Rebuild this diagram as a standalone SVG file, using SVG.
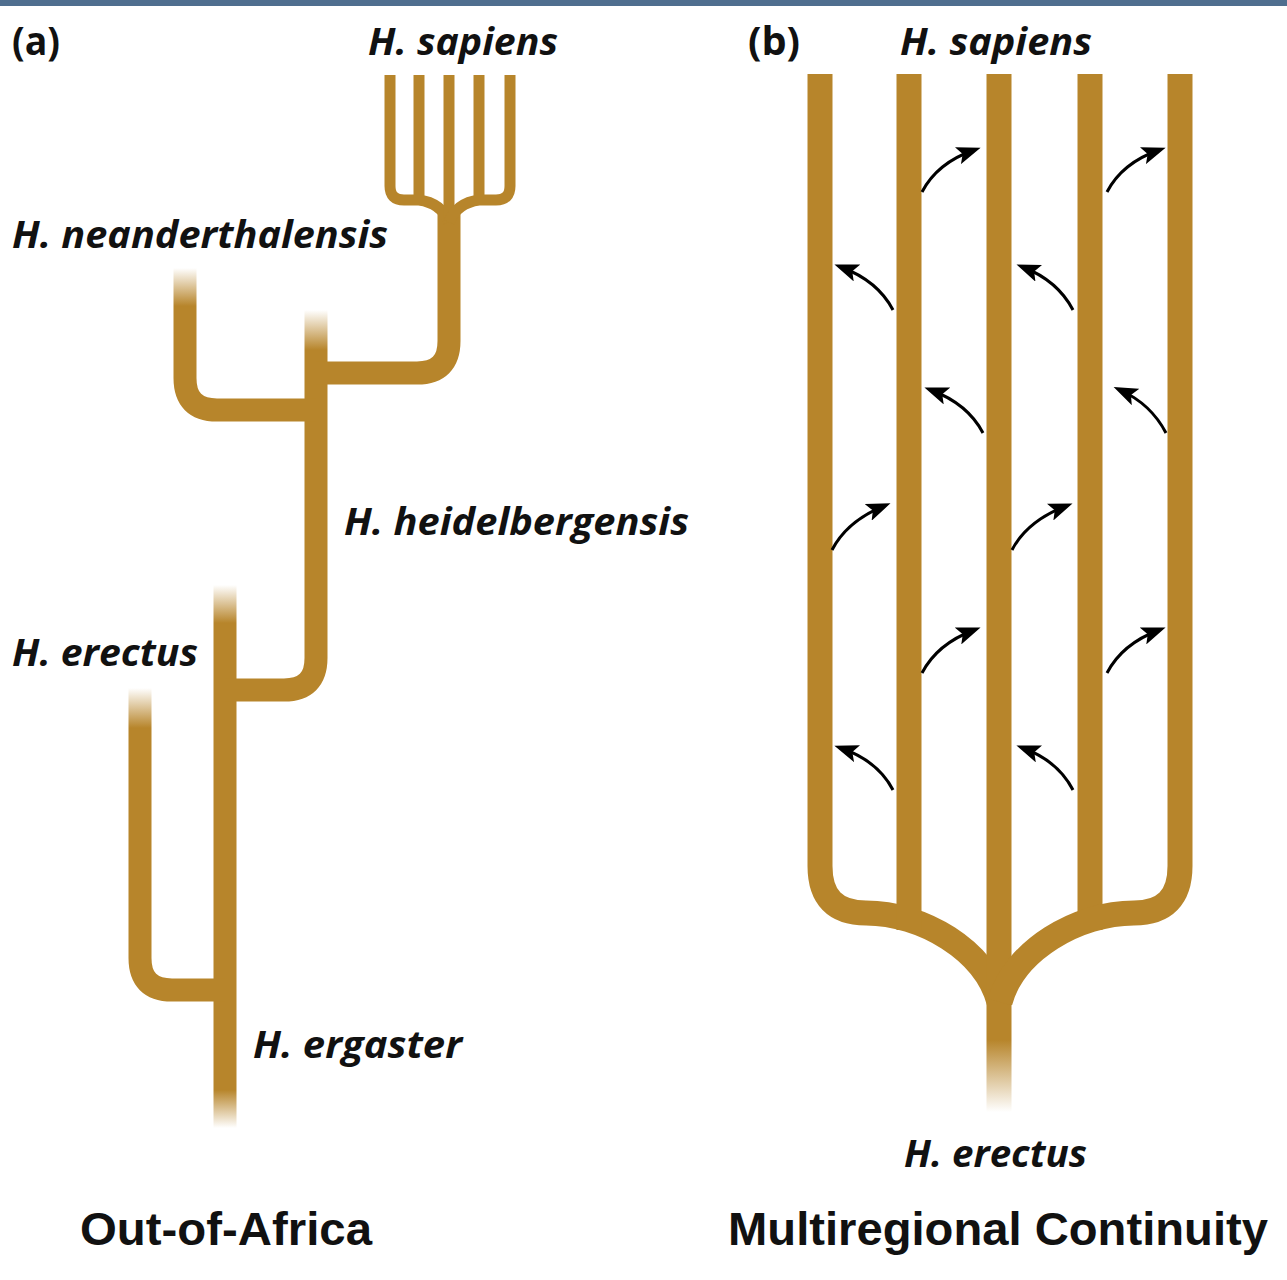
<svg xmlns="http://www.w3.org/2000/svg" width="1287" height="1280" viewBox="0 0 1287 1280">
<style>
.br{fill:none;stroke:#b7852b;stroke-width:23;stroke-linejoin:round;stroke-linecap:butt}
.brb{fill:none;stroke:#b7852b;stroke-width:25;stroke-linejoin:round;stroke-linecap:butt}
.thin{fill:none;stroke:#b7852b;stroke-width:11;stroke-linejoin:round;stroke-linecap:butt}
.lab{font-family:"Open Sans","Liberation Sans",sans-serif;font-weight:bold;font-style:italic;font-size:37px;fill:#111}
.pl{font-family:"Open Sans","Liberation Sans",sans-serif;font-weight:bold;font-size:40px;fill:#111}
.ttl{font-family:"Liberation Sans","Open Sans",sans-serif;font-weight:bold;font-size:46px;fill:#111}
.arr{fill:none;stroke:#000;stroke-width:3;marker-end:url(#ah)}
</style>
<defs>
<linearGradient id="fadeIn" x1="0" y1="0" x2="0" y2="1">
<stop offset="0" stop-color="#b7852b" stop-opacity="0"/>
<stop offset="1" stop-color="#b7852b" stop-opacity="1"/>
</linearGradient>
<linearGradient id="fadeOut" x1="0" y1="0" x2="0" y2="1">
<stop offset="0" stop-color="#b7852b" stop-opacity="1"/>
<stop offset="1" stop-color="#b7852b" stop-opacity="0"/>
</linearGradient>
<marker id="ah" markerUnits="userSpaceOnUse" markerWidth="24" markerHeight="18" viewBox="0 0 24 18" refX="17" refY="9" orient="auto">
<path d="M0,0 L24,9 L0,18 L5,9 z" fill="#000"/>
</marker>
</defs>
<rect x="0" y="0" width="1287" height="1280" fill="#fff"/>
<rect x="0" y="0" width="1287" height="6" fill="#4f6e8f"/>

<text class="pl" x="12" y="55" textLength="48" lengthAdjust="spacingAndGlyphs">(a)</text>
<text class="pl" x="748" y="55" textLength="52" lengthAdjust="spacingAndGlyphs">(b)</text>

<g id="panel-a">
<g id="a-ergaster">
<path class="br" d="M225 623 V1090"/>
<rect x="213.5" y="585" width="23" height="38" fill="url(#fadeIn)"/>
<rect x="213.5" y="1090" width="23" height="38" fill="url(#fadeOut)"/>
<text class="lab" x="253" y="1058" textLength="209" lengthAdjust="spacingAndGlyphs">H. ergaster</text>
</g>
<g id="a-erectus">
<path class="br" d="M225 990 H172 Q140 990 140 958 V728"/>
<rect x="128.5" y="688" width="23" height="40" fill="url(#fadeIn)"/>
<text class="lab" x="12" y="666" textLength="186" lengthAdjust="spacingAndGlyphs">H. erectus</text>
</g>
<g id="a-heidelbergensis">
<path class="br" d="M225 690 H284 Q316 690 316 658 V350"/>
<rect x="304.5" y="310" width="23" height="40" fill="url(#fadeIn)"/>
<text class="lab" x="344" y="535" textLength="345" lengthAdjust="spacingAndGlyphs">H. heidelbergensis</text>
</g>
<g id="a-neanderthalensis">
<path class="br" d="M316 410 H217 Q185 410 185 378 V306"/>
<rect x="173.5" y="268" width="23" height="38" fill="url(#fadeIn)"/>
<text class="lab" x="12" y="248" textLength="376" lengthAdjust="spacingAndGlyphs">H. neanderthalensis</text>
</g>
<g id="a-sapiens">
<path class="br" d="M316 373 H417 Q449 373 449 341 V212"/>
<path class="thin" d="M390 75 V186 Q390 200 404 200 H419 Q441 203 449 222"/>
<path class="thin" d="M419 75 V200"/>
<path class="thin" d="M449 75 V222"/>
<path class="thin" d="M479 75 V200"/>
<path class="thin" d="M510 75 V186 Q510 200 496 200 H479 Q457 203 449 222"/>
<text class="lab" x="368" y="55" textLength="190" lengthAdjust="spacingAndGlyphs">H. sapiens</text>
</g>
<text class="ttl" x="80" y="1245" textLength="292" lengthAdjust="spacingAndGlyphs">Out-of-Africa</text>
</g>

<g id="panel-b">
<g id="b-lineages">
<path class="brb" d="M820 74 V866 Q820 913 866 913 C922 913 985 950 999 1002"/>
<path class="brb" d="M909 74 V930"/>
<path class="brb" d="M999 74 V1040"/>
<rect x="986.5" y="1040" width="25" height="72" fill="url(#fadeOut)"/>
<path class="brb" d="M1090 74 V930"/>
<path class="brb" d="M1180 74 V866 Q1180 913 1134 913 C1078 913 1014 950 1000 1002"/>
</g>
<text class="lab" x="900" y="55" textLength="192" lengthAdjust="spacingAndGlyphs">H. sapiens</text>
<text class="lab" x="904" y="1167" textLength="183" lengthAdjust="spacingAndGlyphs">H. erectus</text>
<text class="ttl" x="728" y="1245" textLength="540" lengthAdjust="spacingAndGlyphs">Multiregional Continuity</text>
</g>

<g id="connectors">
<path class="arr" d="M922 192 Q937 163 974 150"/>
<path class="arr" d="M1107 192 Q1122 163 1159 150"/>
<path class="arr" d="M832 550 Q847 521 884 506"/>
<path class="arr" d="M1012 550 Q1027 521 1066 506"/>
<path class="arr" d="M922 673 Q937 644 974 630"/>
<path class="arr" d="M1107 673 Q1122 644 1159 630"/>
<path class="arr" d="M893 310 Q878 281 841 267"/>
<path class="arr" d="M1073 310 Q1058 281 1023 267"/>
<path class="arr" d="M983 433 Q968 404 931 390"/>
<path class="arr" d="M1166 433 Q1151 404 1120 390"/>
<path class="arr" d="M893 790 Q878 761 841 748"/>
<path class="arr" d="M1073 790 Q1058 761 1023 748"/>
</g>
</svg>
